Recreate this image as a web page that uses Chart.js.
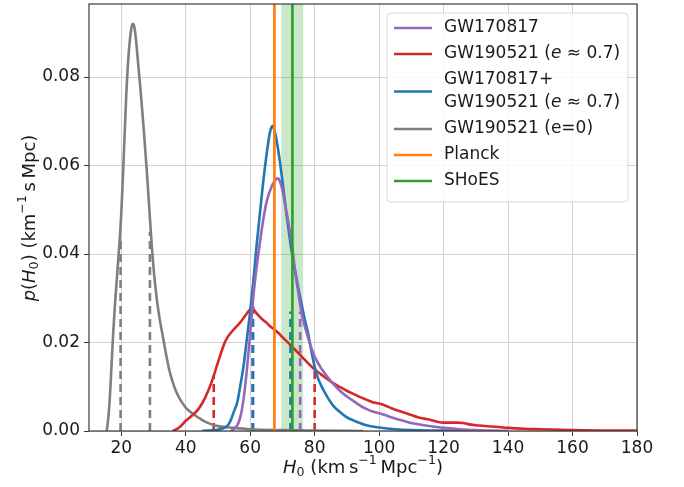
<!DOCTYPE html>
<html>
<head>
<meta charset="utf-8">
<title>H0 posteriors</title>
<script src="https://cdn.jsdelivr.net/npm/chart.js@4.4.1/dist/chart.umd.min.js"></script>
<style>
  body { margin: 0; background: #fff; }
</style>
</head>
<body>
<canvas id="c" width="684" height="487"></canvas>
<script>
// x ticks / y ticks
const xTicks = [20, 40, 60, 80, 100, 120, 140, 160, 180];
const yTicks = [0, 0.02, 0.04, 0.06, 0.08];
const yMax = 0.0965;

// GW170817
const gw17H = [54, 55, 56, 57, 58, 59, 60, 61, 62, 63, 64, 65, 66, 67, 68, 68.5, 69, 70, 71, 72, 73, 74, 75, 76, 77, 78, 79, 80, 82, 84, 86, 88, 90, 92, 94, 96, 98, 100, 103, 106, 110, 115, 120, 125, 130, 135, 140];
const gw17P = [0, 0.0005, 0.0013, 0.0033, 0.0075, 0.014, 0.022, 0.0305, 0.037, 0.0425, 0.0475, 0.0515, 0.054, 0.0558, 0.0569, 0.0571, 0.0568, 0.0545, 0.0505, 0.0465, 0.042, 0.0357, 0.031, 0.0265, 0.0235, 0.021, 0.0187, 0.0168, 0.0142, 0.0122, 0.0105, 0.009, 0.0078, 0.0068, 0.0058, 0.005, 0.0044, 0.004, 0.0033, 0.0026, 0.0018, 0.0012, 0.0007, 0.0004, 0.0002, 0.0001, 0];

// GW190521 (e ~ 0.7)
const gw19H = [36, 38, 40, 42, 44, 46, 48, 50, 52, 53, 54, 55, 56, 57, 58, 59, 60, 60.5, 61, 62, 63, 64, 65, 66, 67, 68, 69, 70, 72, 74, 76, 78, 80, 82, 84, 86, 88, 90, 92, 94, 96, 98, 100, 102, 104, 106, 108, 110, 112, 114, 116, 118, 120, 122, 124, 126, 128, 130, 132, 135, 140, 145, 150, 160, 170, 180];
const gw19P = [0, 0.0008, 0.0023, 0.0035, 0.005, 0.0075, 0.011, 0.0155, 0.0198, 0.0212, 0.0222, 0.023, 0.0238, 0.0246, 0.0256, 0.0266, 0.0275, 0.0278, 0.0275, 0.0266, 0.0258, 0.0251, 0.0245, 0.0238, 0.0232, 0.0226, 0.022, 0.0212, 0.0198, 0.0183, 0.0168, 0.0153, 0.0139, 0.0128, 0.0117, 0.0107, 0.0099, 0.0091, 0.0084, 0.0077, 0.0071, 0.0065, 0.0062, 0.0057, 0.0051, 0.0046, 0.0041, 0.0036, 0.0031, 0.0028, 0.0025, 0.0021, 0.0019, 0.0019, 0.0019, 0.0018, 0.0015, 0.0013, 0.0012, 0.001, 0.0007, 0.0005, 0.0004, 0.0002, 0.0001, 0.0001];

// GW170817 + GW190521 (e ~ 0.7)
const combH = [45, 50, 52, 53, 54, 55, 56, 57, 58, 59, 60, 61, 62, 63, 64, 65, 66, 66.5, 67, 67.5, 68, 69, 70, 71, 72, 73, 74, 75, 76, 77, 78, 79, 80, 81, 82, 83, 84, 85, 86, 88, 90, 92, 94, 96, 100, 105, 110, 120, 127];
const combP = [0, 0.0003, 0.0007, 0.0012, 0.0025, 0.0045, 0.0065, 0.0105, 0.015, 0.021, 0.027, 0.034, 0.042, 0.049, 0.056, 0.062, 0.067, 0.0685, 0.069, 0.068, 0.0665, 0.062, 0.0565, 0.0505, 0.045, 0.04, 0.036, 0.032, 0.0285, 0.025, 0.022, 0.018, 0.0145, 0.012, 0.0103, 0.0089, 0.0076, 0.0065, 0.0055, 0.0042, 0.0031, 0.0024, 0.0018, 0.0013, 0.0008, 0.0004, 0.0002, 0.0001, 0];

// GW190521 (e = 0)
const circH = [15.5, 16, 16.5, 17, 17.5, 18, 18.5, 19, 19.5, 20, 20.5, 21, 21.5, 22, 22.5, 23, 23.5, 24, 24.5, 25, 26, 27, 28, 29, 30, 31, 32, 33, 34, 35, 36, 37, 38, 39, 40, 42, 44, 46, 48, 50, 55, 60, 70, 80, 95];
const circP = [0, 0.003, 0.008, 0.015, 0.022, 0.028, 0.033, 0.038, 0.043, 0.049, 0.057, 0.066, 0.075, 0.082, 0.087, 0.0903, 0.092, 0.0915, 0.089, 0.085, 0.077, 0.068, 0.058, 0.047, 0.037, 0.030, 0.025, 0.021, 0.017, 0.0135, 0.011, 0.009, 0.0075, 0.0063, 0.0053, 0.004, 0.003, 0.0021, 0.0015, 0.0011, 0.0007, 0.0004, 0.0002, 0.0001, 0];

// credible-interval markers (x, height)
const gw17CI = [[60.7, 0.0275], [75.5, 0.027]];
const gw19CI = [[48.7, 0.0123], [80.0, 0.0137]];
const combCI = [[60.9, 0.029], [72.5, 0.027]];
const circCI = [[19.8, 0.043], [28.9, 0.045]];

// reference measurements
const planck = 67.5, planckLo = 67.0, planckHi = 68.0;
const shoes = 73.1, shoesLo = 69.6, shoesHi = 76.5;

const C = {
  purple: '#9467bd', red: '#d62728', blue: '#1f77b4',
  gray: '#7f7f7f', orange: '#ff7f0e', green: '#2ca02c'
};

const pts = (h, p) => h.map((v, i) => ({ x: v, y: p[i] }));
const curve = (label, h, p, color, order) => ({
  label, data: pts(h, p), borderColor: color, borderWidth: 2.6,
  pointRadius: 0, cubicInterpolationMode: 'monotone', fill: false, order
});
const dashes = (ci, color) => ci.map(([x, y]) => ({
  label: '', data: [{ x, y: 0 }, { x, y }], borderColor: color, borderWidth: 2.6,
  borderDash: [8, 5], pointRadius: 0, fill: false, order: 5
}));
const band = (lo, hi, color) => ({
  label: '', data: [{ x: lo, y: yMax }, { x: hi, y: yMax }], borderWidth: 0,
  backgroundColor: color, pointRadius: 0, fill: 'origin', order: 9
});
const vline = (x, color) => ({
  label: '', data: [{ x, y: 0 }, { x, y: yMax }], borderColor: color, borderWidth: 2.6,
  pointRadius: 0, fill: false, order: 0
});

const datasets = [
  band(shoesLo, shoesHi, 'rgba(44,160,44,0.25)'),
  band(planckLo, planckHi, 'rgba(255,127,14,0.3)'),
  ...dashes(circCI, C.gray),
  ...dashes(gw19CI, C.red),
  ...dashes(combCI, C.blue),
  ...dashes(gw17CI, C.purple),
  curve('GW190521 (e=0)', circH, circP, C.gray, 4),
  curve('GW190521 (e≈0.7)', gw19H, gw19P, C.red, 3),
  curve('GW170817+GW190521 (e≈0.7)', combH, combP, C.blue, 2),
  curve('GW170817', gw17H, gw17P, C.purple, 1),
  vline(planck, C.orange),
  vline(shoes, C.green)
];

const FONT = '"DejaVu Sans", sans-serif';
const TS = '\u2009'; // thin space

// draw text made of normal / italic / sub / sup pieces
function richWidth(ctx, segs, size) {
  let w = 0;
  for (const s of segs) {
    const fs = (s.sub || s.sup) ? size * 0.7 : size;
    ctx.font = (s.it ? 'italic ' : '') + fs + 'px ' + FONT;
    w += ctx.measureText(s.t).width;
  }
  return w;
}
function drawRich(ctx, segs, x, y, size, align) {
  let cx = align === 'center' ? x - richWidth(ctx, segs, size) / 2 : x;
  ctx.textBaseline = 'middle';
  ctx.textAlign = 'left';
  for (const s of segs) {
    const fs = (s.sub || s.sup) ? size * 0.7 : size;
    ctx.font = (s.it ? 'italic ' : '') + fs + 'px ' + FONT;
    const dy = s.sub ? size * 0.28 : s.sup ? -size * 0.38 : 0;
    ctx.fillText(s.t, cx, y + dy);
    cx += ctx.measureText(s.t).width;
  }
}

const legendRows = [
  { color: C.purple, lines: [[{ t: 'GW170817' }]] },
  { color: C.red, lines: [[{ t: 'GW190521 (' }, { t: 'e', it: true }, { t: ' ≈ 0.7)' }]] },
  { color: C.blue, lines: [[{ t: 'GW170817+' }], [{ t: 'GW190521 (' }, { t: 'e', it: true }, { t: ' ≈ 0.7)' }]] },
  { color: C.gray, lines: [[{ t: 'GW190521 (e=0)' }]] },
  { color: C.orange, lines: [[{ t: 'Planck' }]] },
  { color: C.green, lines: [[{ t: 'SHoES' }]] }
];

const decor = {
  id: 'decor',
  afterDraw(chart) {
    const ctx = chart.ctx, a = chart.chartArea;
    ctx.save();
    // frame
    ctx.strokeStyle = '#3a3a3a';
    ctx.lineWidth = 1.2;
    ctx.strokeRect(a.left, a.top, a.right - a.left, a.bottom - a.top);

    // legend
    const bx = 387, by = 13, bw = 241, bh = 189;
    ctx.fillStyle = 'rgba(255,255,255,0.85)';
    ctx.strokeStyle = '#d8d8d8';
    ctx.lineWidth = 1;
    ctx.beginPath();
    ctx.roundRect(bx, by, bw, bh, 4);
    ctx.fill();
    ctx.stroke();
    let y = 28;
    const lh = 26, inner = 23;
    for (const r of legendRows) {
      const n = r.lines.length;
      const mid = y + (n - 1) * inner / 2;
      ctx.strokeStyle = r.color;
      ctx.lineWidth = 2.6;
      ctx.beginPath();
      ctx.moveTo(394, mid);
      ctx.lineTo(432, mid);
      ctx.stroke();
      ctx.fillStyle = '#1a1a1a';
      r.lines.forEach((ln, i) => drawRich(ctx, ln, 444, y + i * inner, 17, 'left'));
      y += lh + (n - 1) * inner;
    }

    // axis titles
    ctx.fillStyle = '#1a1a1a';
    drawRich(ctx, [{ t: 'H', it: true }, { t: '0', sub: true }, { t: ' (km' + TS + 's' }, { t: '−1', sup: true }, { t: TS + 'Mpc' }, { t: '−1', sup: true }, { t: ')' }],
      (a.left + a.right) / 2, 468, 18, 'center');
    ctx.translate(30, 218);
    ctx.rotate(-Math.PI / 2);
    drawRich(ctx, [{ t: 'p', it: true }, { t: '(' }, { t: 'H', it: true }, { t: '0', sub: true }, { t: ') (km' }, { t: '−1', sup: true }, { t: TS + 's' + TS + 'Mpc)' }],
      0, 0, 18, 'center');
    ctx.restore();
  }
};

new Chart(document.getElementById('c'), {
  type: 'line',
  data: { datasets },
  options: {
    responsive: false,
    animation: false,
    layout: { padding: { top: 4, right: 47, left: 0, bottom: 0 } },
    plugins: { legend: { display: false }, tooltip: { enabled: false } },
    scales: {
      x: {
        type: 'linear', min: 10, max: 180,
        afterBuildTicks: s => { s.ticks = xTicks.map(v => ({ value: v })); },
        afterFit: s => { s.height = 56; s.paddingLeft = 0; s.paddingRight = 0; },
        grid: { color: '#d2d2d2', lineWidth: 1, tickLength: 5, tickColor: '#3a3a3a' },
        border: { display: false },
        ticks: { font: { family: FONT, size: 17 }, color: '#1a1a1a', padding: 2, maxRotation: 0 }
      },
      y: {
        type: 'linear', min: 0, max: yMax,
        afterBuildTicks: s => { s.ticks = yTicks.map(v => ({ value: v })); },
        afterFit: s => { s.width = 89; s.paddingTop = 0; s.paddingBottom = 0; },
        grid: { color: '#d2d2d2', lineWidth: 1, tickLength: 5, tickColor: '#3a3a3a' },
        border: { display: false },
        ticks: { font: { family: FONT, size: 17 }, color: '#1a1a1a', padding: 4, callback: v => v.toFixed(2) }
      }
    }
  },
  plugins: [decor]
});
</script>
</body>
</html>
